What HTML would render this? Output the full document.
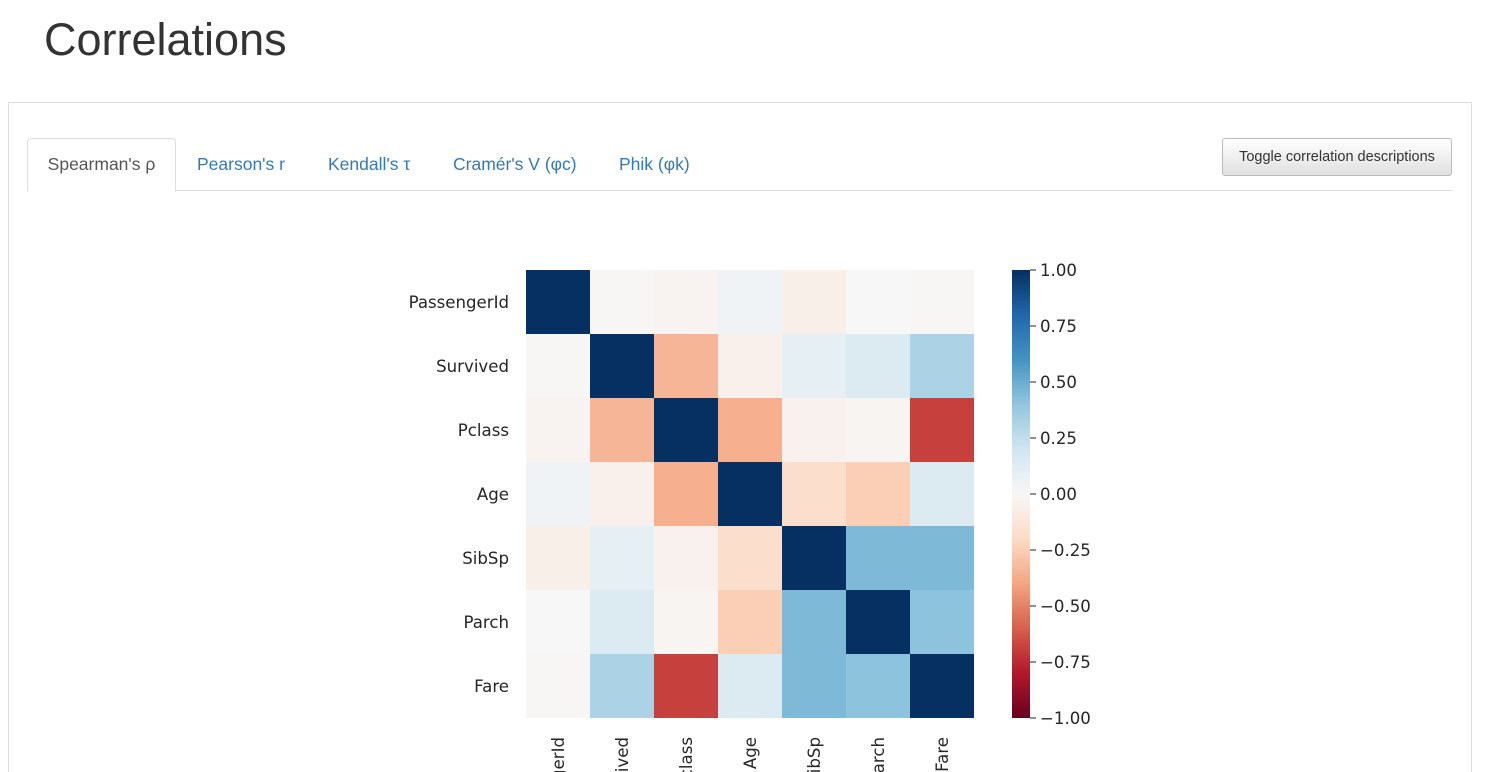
<!DOCTYPE html>
<html><head><meta charset="utf-8"><style>
html,body{margin:0;width:1490px;height:772px;overflow:hidden;background:#fff;font-family:"Liberation Sans",sans-serif;position:relative}
.abs{position:absolute}
h1{position:absolute;left:44px;top:14px;margin:0;font-size:45px;font-weight:400;color:#333}
.panel{left:8px;top:102px;width:1462px;height:700px;border:1px solid #ddd}
.tabline{left:27px;top:190px;width:1425px;height:1px;background:#ddd}
.tab{top:138px;height:52px;line-height:52px;font-size:17.5px;color:#337ab7}
.active{left:27px;width:147px;border:1px solid #ddd;border-bottom:1px solid #fff;border-radius:4px 4px 0 0;background:#fff;color:#555;text-align:center;height:52px;line-height:50px}
.btn{left:1222px;top:138px;width:228px;height:36px;border:1px solid #bbb;border-radius:3px;background:linear-gradient(#fff,#e0e0e0);font-size:14.5px;line-height:36px;text-align:center;color:#333}
</style></head><body>
<h1>Correlations</h1>
<div class="abs panel"></div>
<div class="abs tabline"></div>
<div class="abs tab active">Spearman's ρ</div>
<div class="abs tab" style="left:197px">Pearson's r</div>
<div class="abs tab" style="left:328px">Kendall's τ</div>
<div class="abs tab" style="left:453px">Cramér's V (φc)</div>
<div class="abs tab" style="left:619px">Phik (φk)</div>
<div class="abs btn">Toggle correlation descriptions</div>
<svg class="abs" style="left:0;top:0" width="1490" height="772">
<defs><linearGradient id="cg" x1="0" y1="1" x2="0" y2="0">
<stop offset="0" stop-color="#67001f"/><stop offset="0.1" stop-color="#b2182b"/><stop offset="0.2" stop-color="#d6604d"/><stop offset="0.3" stop-color="#f4a582"/><stop offset="0.4" stop-color="#fddbc7"/><stop offset="0.5" stop-color="#f7f7f7"/><stop offset="0.6" stop-color="#d1e5f0"/><stop offset="0.7" stop-color="#92c5de"/><stop offset="0.8" stop-color="#4393c3"/><stop offset="0.9" stop-color="#2166ac"/><stop offset="1" stop-color="#053061"/></linearGradient></defs>
<g id="cells"></g><g id="labels" font-family="DejaVu Sans,sans-serif" font-size="16.6" fill="#262626"></g>
<rect x="1012" y="270" width="18" height="448" fill="url(#cg)"/>
<g id="cbticks" font-family="DejaVu Sans,sans-serif" font-size="16.6" fill="#262626"></g>
</svg>
<script>
const categories=["PassengerId","Survived","Pclass","Age","SibSp","Parch","Fare"];
const row0=[1,-0.01,-0.03,0.04,-0.06,0.0,-0.01];
const row1=[-0.01,1,-0.34,-0.05,0.09,0.14,0.32];
const row2=[-0.03,-0.34,1,-0.36,-0.04,-0.02,-0.69];
const row3=[0.04,-0.05,-0.36,1,-0.18,-0.25,0.14];
const row4=[-0.06,0.09,-0.04,-0.18,1,0.45,0.45];
const row5=[0.0,0.14,-0.02,-0.25,0.45,1,0.41];
const row6=[-0.01,0.32,-0.69,0.14,0.45,0.41,1];
const matrix=[row0,row1,row2,row3,row4,row5,row6];
const cbTicks=[1,0.75,0.5,0.25,0,-0.25,-0.5,-0.75,-1];
const stops=["#67001f","#b2182b","#d6604d","#f4a582","#fddbc7","#f7f7f7","#d1e5f0","#92c5de","#4393c3","#2166ac","#053061"];
const X0=526,Y0=270,CW=64,H=448;
const xs=i=>X0+i*CW, ys=i=>Y0+i*CW, cy=v=>Y0+(1-v)/2*H;
function hex(h){return [1,3,5].map(k=>parseInt(h.substr(k,2),16));}
function color(v){let t=(v+1)/2*10;let i=Math.min(9,Math.floor(t));let f=t-i;let a=hex(stops[i]),b=hex(stops[i+1]);return 'rgb('+a.map((c,k)=>Math.round(c+(b[k]-c)*f)).join(',')+')';}
const NS="http://www.w3.org/2000/svg";
const cells=document.getElementById('cells'),lab=document.getElementById('labels'),cb=document.getElementById('cbticks');
matrix.forEach((row,r)=>row.forEach((v,c)=>{
 const e=document.createElementNS(NS,'rect');
 e.setAttribute('x',xs(c));e.setAttribute('y',ys(r));e.setAttribute('width',CW);e.setAttribute('height',CW);e.setAttribute('fill',color(v));
 
 
 cells.appendChild(e);}));
categories.forEach((n,i)=>{
 const t=document.createElementNS(NS,'text');
 t.setAttribute('x',509);t.setAttribute('y',ys(i)+CW/2+6);t.setAttribute('text-anchor','end');t.textContent=n;
 
 
 lab.appendChild(t);
 const u=document.createElementNS(NS,'text');
 const x=xs(i)+CW/2+6;
 u.setAttribute('transform','translate('+x+',737) rotate(-90)');u.setAttribute('text-anchor','end');u.textContent=n;
 
 
 lab.appendChild(u);
});
cbTicks.forEach(v=>{
 const l=document.createElementNS(NS,'line');
 l.setAttribute('x1',1030);l.setAttribute('x2',1036);l.setAttribute('y1',cy(v));l.setAttribute('y2',cy(v));l.setAttribute('stroke','#262626');
 
 
 cb.appendChild(l);
 const t=document.createElementNS(NS,'text');
 t.setAttribute('x',1040);t.setAttribute('y',cy(v)+6);t.textContent=(v<0?'\u2212':'')+Math.abs(v).toFixed(2);
 
 
 cb.appendChild(t);
});
</script>
</body></html>
